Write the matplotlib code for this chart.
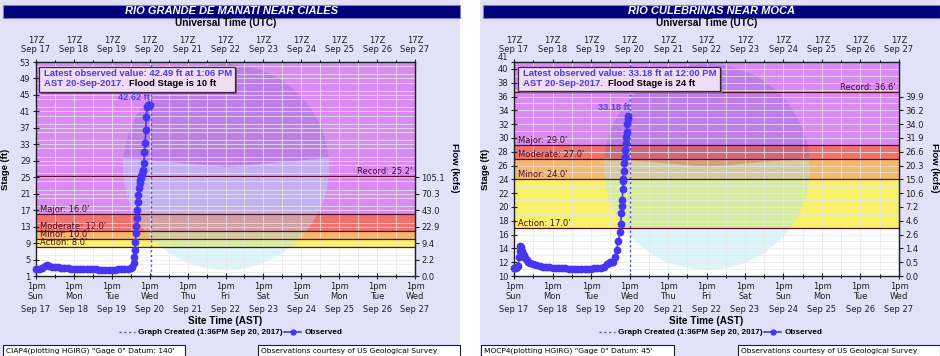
import matplotlib
matplotlib.use('Agg')
import matplotlib.pyplot as plt
import matplotlib.ticker as mticker
import matplotlib.transforms as mtrans
from matplotlib.patches import Rectangle, Wedge
from matplotlib.lines import Line2D

W, H = 940, 356

# ---------------- data ----------------
utc_labels = ['Sep 17', 'Sep 18', 'Sep 19', 'Sep 20', 'Sep 21', 'Sep 22',
              'Sep 23', 'Sep 24', 'Sep 25', 'Sep 26', 'Sep 27']
weekday_labels = ['Sun', 'Mon', 'Tue', 'Wed', 'Thu', 'Fri', 'Sat', 'Sun',
                  'Mon', 'Tue', 'Wed']
graph_created_hour = 72.6  # hours after 1pm AST Sep 17

# Rio Grande de Manati near Ciales
manati_hours = [0, 2, 4, 6, 7, 8, 10, 12, 14, 16, 18, 20, 22, 24, 26, 28, 30, 32,
                34, 36, 38, 40, 42, 44, 46, 48, 50, 52, 54, 56, 58, 60, 61, 61.75,
                62.25, 62.6, 62.9, 63.2, 63.5, 63.8, 64.1, 64.5, 64.9, 65.3, 65.7,
                66.0, 66.4, 66.8, 67.2, 67.6, 68.0, 68.3, 68.7, 69.1, 69.5, 69.9,
                70.3, 70.8, 71.3, 71.7, 72.1]
manati_stage = [2.8, 2.8, 2.9, 3.4, 3.6, 3.5, 3.3, 3.2, 3.1, 3.0, 2.9, 2.9, 2.8,
                2.8, 2.7, 2.7, 2.7, 2.6, 2.6, 2.6, 2.6, 2.5, 2.5, 2.5, 2.5, 2.5,
                2.5, 2.6, 2.6, 2.7, 2.8, 3.0, 3.3, 4.2, 5.6, 7.2, 9.3, 11.4, 13.2,
                15.0, 17.0, 19.0, 20.8, 22.3, 23.5, 24.3, 24.8, 25.4, 25.9, 26.4,
                26.8, 28.5, 31.2, 33.4, 36.5, 39.7, 42.0, 42.6, 42.62, 42.55, 42.49]
manati_yticks = [1, 5, 9, 13, 17, 21, 25, 29, 33, 37, 41, 45, 49, 53]
manati_flow_pos = [1, 5, 9, 13, 17, 21, 25]
manati_flow_labels = ['0.0', '2.2', '9.4', '22.9', '43.0', '70.3', '105.1']
manati_levels = [8.0, 10.0, 12.0, 16.0]
manati_record = 25.2

# Rio Culebrinas near Moca
cul_hours = [0, 1, 2, 2.7, 3.2, 3.6, 4.0, 4.5, 5.0, 6, 7, 8, 9, 10, 12, 14, 16,
             18, 20, 22, 24, 26, 28, 30, 32, 34, 36, 38, 40, 42, 44, 46, 48, 50,
             52, 54, 56, 58, 59, 60, 61, 62, 63, 64, 65, 66, 66.5, 67, 67.3, 67.5,
             67.8, 68.0, 68.2, 68.5, 68.8, 69.0, 69.3, 69.6, 69.9, 70.2, 70.5,
             70.8, 71.0]
cul_stage = [11.2, 11.2, 11.3, 11.5, 12.8, 13.6, 14.3, 14.2, 13.6, 13.0, 12.6,
             12.3, 12.1, 11.9, 11.7, 11.6, 11.45, 11.35, 11.3, 11.25, 11.2, 11.15,
             11.1, 11.1, 11.1, 11.05, 11.05, 11.05, 11.05, 11.05, 11.05, 11.05,
             11.05, 11.1, 11.1, 11.1, 11.3, 11.7, 11.9, 12.0, 12.0, 12.1, 12.8,
             13.8, 15.0, 16.4, 17.6, 19.1, 20.2, 21.0, 22.6, 23.7, 24.0, 25.2,
             26.3, 27.3, 28.3, 29.2, 30.2, 30.9, 32.0, 32.8, 33.18]
cul_yticks = [10, 12, 14, 16, 18, 20, 22, 24, 26, 28, 30, 32, 34, 36, 38, 40, 41]
cul_flow_pos = [10, 12, 14, 16, 18, 20, 22, 24, 26, 28, 30, 32, 34, 36]
cul_flow_labels = ['0.0', '0.5', '1.4', '2.6', '4.6', '7.2', '10.6', '15.0',
                   '20.3', '26.6', '31.9', '34.0', '36.2', '39.9']
cul_levels = [17.0, 24.0, 27.0, 29.0]
cul_record = 36.6

level_names = ['Action', 'Minor', 'Moderate', 'Major']

# ---------------- style ----------------
PANEL_BG = '#e1e1f9'
TITLE_BG = '#00007a'
ZONE_COLORS = ['#f7f06a', '#f4b86c', '#ef7270', '#da8af5']  # action, minor, moderate, major+
LINE_DARK = '#5a1020'
OBS_COLOR = '#4636f0'
FONT = 'DejaVu Sans'
ARIAL = 'Liberation Sans'

fig = plt.figure(figsize=(W / 100, H / 100), dpi=100)
fig.patch.set_facecolor('white')


def fy(y):
    return 1 - y / H


def panel(x0, pw, plot_box, title, hours, stage, ylim, yticks, yminor,
          flow_pos, flow_labels, levels, record, peak_text, peak_xy,
          info_box, info1, info2a, info2b, footer_left, footer_box_l,
          footer_box_r):
    # panel background
    fig.patches.append(Rectangle((x0 / W, 0), pw / W, 1, transform=fig.transFigure,
                                 facecolor=PANEL_BG, edgecolor='none', zorder=-5))
    # title bar
    fig.patches.append(Rectangle(((x0 + 3) / W, fy(17.5)), (pw - 3) / W, 12.5 / H,
                                 transform=fig.transFigure, facecolor=TITLE_BG,
                                 edgecolor='#8080c0', lw=0.8, zorder=1))
    pl, pt, pr, pb = plot_box
    fig.text((x0 + 3 + x0 + pw) / 2 / W, fy(11.3), title, color='white',
             family=ARIAL, weight='bold', style='italic', fontsize=8,
             ha='center', va='center', zorder=2)
    ax = fig.add_axes([pl / W, fy(pb), (pr - pl) / W, (pb - pt) / H])
    ax.set_zorder(3)
    ax.set_xlim(0, 240)
    ax.set_ylim(*ylim)
    ax.set_facecolor('white')

    # flood zones
    bounds = levels + [ylim[1]]
    for i, c in enumerate(ZONE_COLORS):
        ax.axhspan(bounds[i], bounds[i + 1], color=c, zorder=0.2, lw=0)

    # NOAA-like watermark
    cx, cy = (pl + pr) / 2 + 0.5, 167
    trans = fig.dpi_scale_trans
    r = 1.03
    ax.add_patch(Wedge((cx / 100, (H - cy) / 100), r, 5, 175, transform=trans,
                       facecolor='#4a4ac0', alpha=0.2, lw=0, zorder=0.3))
    ax.add_patch(Wedge((cx / 100, (H - cy) / 100), r, 175, 365, transform=trans,
                       facecolor='#a6e8f6', alpha=0.4, lw=0, zorder=0.3))

    # grid
    ax.xaxis.set_major_locator(mticker.MultipleLocator(24))
    ax.xaxis.set_minor_locator(mticker.MultipleLocator(12))
    ax.set_yticks(yticks)
    ax.yaxis.set_minor_locator(mticker.MultipleLocator(yminor))
    ax.set_axisbelow(True)
    ax.grid(which='both', color='#e8e8e8', lw=0.7, alpha=0.75)

    # threshold lines + labels
    for name, lv in zip(level_names, levels):
        ax.axhline(lv, color=LINE_DARK, lw=0.9, zorder=2)
        ax.text(2.5, lv, f"{name}: {lv:.1f}'", fontsize=6, family=FONT,
                color='#4a0a20', va='bottom', ha='left', zorder=2.5)
    ax.axhline(record, color=LINE_DARK, lw=0.9, zorder=2)
    ax.text(238, record, f"Record: {record:.1f}'", fontsize=6, family=FONT,
            color='#4a0a20', va='bottom', ha='right', zorder=2.5)

    # graph created line
    ax.axvline(graph_created_hour, color='#4a4af0', lw=1.0, ls=(0, (1.5, 2)),
               zorder=2.6)

    # observed
    ax.plot(hours, stage, color=OBS_COLOR, lw=1.2, marker='o', ms=4.6,
            mec=OBS_COLOR, mfc=OBS_COLOR, zorder=3, clip_on=False)
    ax.text(peak_xy[0], peak_xy[1], peak_text, fontsize=6.6, family=ARIAL,
            weight='bold', color='#5046e6', ha='center', va='center', zorder=4)

    # axes styling
    for s in ax.spines.values():
        s.set_color('#202020')
        s.set_linewidth(1.0)
    ax.tick_params(axis='both', which='major', direction='inout', length=5,
                   width=0.8, labelsize=6, colors='#202020', pad=1.5)
    ax.tick_params(axis='x', which='minor', direction='inout', length=3,
                   width=0.7)
    ax.tick_params(axis='y', which='minor', length=0)
    ax.set_yticklabels([str(t) for t in yticks], family=FONT)
    # keep the topmost label just above the next one (as in the original)
    if yticks[-1] - yticks[-2] == 1:
        ax.get_yticklabels()[-1].set_va('bottom')
    xt = list(range(0, 241, 24))
    ax.set_xticks(xt)
    ax.set_xticklabels([f"1pm\n{d}" for d in weekday_labels], family=FONT,
                       linespacing=1.15)

    # bottom date row
    bt = mtrans.blended_transform_factory(ax.transData, fig.transFigure)
    for h, d in zip(xt, utc_labels):
        fig.text(h, fy(309), d, transform=bt, fontsize=6, family=FONT,
                 ha='center', va='center', color='#202020')

    # top UTC axis
    top = ax.secondary_xaxis('top')
    top.set_xticks(xt)
    top.set_xticklabels([f"17Z\n{d}" for d in utc_labels], family=FONT,
                        linespacing=1.05)
    top.xaxis.set_minor_locator(mticker.MultipleLocator(12))
    top.tick_params(which='major', direction='inout', length=5, width=0.8,
                    labelsize=6, colors='#202020', pad=3)
    top.tick_params(which='minor', direction='inout', length=3, width=0.7)
    top.spines['top'].set_color('#202020')

    # right flow axis
    right = ax.secondary_yaxis('right')
    right.set_yticks(flow_pos)
    right.set_yticklabels(flow_labels, family=FONT)
    right.tick_params(direction='out', length=3, width=0.8, labelsize=6,
                      colors='#202020', pad=1.5)
    right.spines['right'].set_color('#202020')

    # axis titles
    xc = (pl + pr) / 2
    fig.text(xc / W, fy(23.5), 'Universal Time (UTC)', family=ARIAL,
             weight='bold', fontsize=7.2, ha='center', va='center')
    fig.text(xc / W, fy(321), 'Site Time (AST)', family=ARIAL, weight='bold',
             fontsize=7.2, ha='center', va='center')
    fig.text((x0 + 6) / W, fy(169), 'Stage (ft)', family=ARIAL, weight='bold',
             fontsize=6.8, rotation=90, ha='center', va='center')
    fig.text((x0 + pw - 5) / W, fy(168), 'Flow (kcfs)', family=ARIAL,
             weight='bold', fontsize=6.8, rotation=270, ha='center', va='center')

    # legend
    ly = fy(332)
    lx = x0 + 119
    fig.lines.append(Line2D([lx / W, (lx + 16) / W], [ly, ly], color='#4a4af0',
                            lw=1.0, ls=(0, (1.5, 2)), transform=fig.transFigure))
    fig.text((lx + 19) / W, ly, 'Graph Created (1:36PM Sep 20, 2017)',
             family=ARIAL, weight='bold', fontsize=5.9, ha='left', va='center')
    lx2 = x0 + 284
    fig.lines.append(Line2D([lx2 / W, (lx2 + 17) / W], [ly, ly], color=OBS_COLOR,
                            lw=1.2, transform=fig.transFigure))
    fig.lines.append(Line2D([(lx2 + 8.5) / W], [ly], color=OBS_COLOR,
                            marker='o', ms=3.5, transform=fig.transFigure))
    fig.text((lx2 + 21) / W, ly, 'Observed', family=ARIAL, weight='bold',
             fontsize=5.9, ha='left', va='center')

    # info box (shadow + box)
    bx0, by0, bx1, by1 = info_box
    fig.patches.append(Rectangle(((bx0 + 2) / W, fy(by1 + 2)), (bx1 - bx0) / W,
                                 (by1 - by0) / H, transform=fig.transFigure,
                                 facecolor='#7a5a80', edgecolor='none', zorder=5))
    fig.patches.append(Rectangle((bx0 / W, fy(by1)), (bx1 - bx0) / W,
                                 (by1 - by0) / H, transform=fig.transFigure,
                                 facecolor='#f0dcf4', edgecolor='#3a2a40', lw=0.9,
                                 zorder=6))
    fig.text((bx0 + 5) / W, fy(by0 + 7), info1, family=ARIAL, weight='bold',
             fontsize=6.8, color='#4a3ae8', ha='left', va='center', zorder=7)
    t2 = fig.text((bx0 + 5) / W, fy(by0 + 16.5), info2a, family=ARIAL,
                  weight='bold', fontsize=6.8, color='#4a3ae8', ha='left',
                  va='center', zorder=7)
    ann = plt.Annotation(info2b, xy=(1, 0.5), xycoords=t2,
                         xytext=(4, 0), textcoords='offset points',
                         family=ARIAL, weight='bold', fontsize=6.8,
                         color='black', ha='left', va='center', zorder=7)
    ann.set_figure(fig)
    fig.texts.append(ann)

    # footer boxes
    for (fx0, fx1), txt in zip([footer_box_l, footer_box_r],
                               [footer_left,
                                'Observations courtesy of US Geological Survey']):
        fig.patches.append(Rectangle((fx0 / W, fy(357)), (fx1 - fx0) / W, 12.5 / H,
                                     transform=fig.transFigure,
                                     facecolor='white', edgecolor='#202020',
                                     lw=0.8, zorder=2))
        fig.text((fx0 + 3) / W, fy(350.5), txt, family=FONT, fontsize=5.4,
                 ha='left', va='center', zorder=3)
    return ax


panel(0, 460, (36, 62, 415, 276), 'RIO GRANDE DE MANATI NEAR CIALES',
      manati_hours, manati_stage, (1, 53), manati_yticks, 2,
      manati_flow_pos, manati_flow_labels, manati_levels, manati_record,
      '42.62 ft', (62, 44.4), (39, 67, 235, 92),
      'Latest observed value: 42.49 ft at 1:06 PM', 'AST 20-Sep-2017.',
      'Flood Stage is 10 ft', 'CIAP4(plotting HGIRG) "Gage 0" Datum: 140\'',
      (3, 185), (258, 460))

panel(480, 460, (514, 62, 899, 276), 'RIO CULEBRINAS NEAR MOCA',
      cul_hours, cul_stage, (10, 41), cul_yticks, 1,
      cul_flow_pos, cul_flow_labels, cul_levels, cul_record,
      '33.18 ft', (62, 34.4), (518, 67, 720, 91),
      'Latest observed value: 33.18 ft at 12:00 PM', 'AST 20-Sep-2017.',
      'Flood Stage is 24 ft', 'MOCP4(plotting HGIRG) "Gage 0" Datum: 45\'',
      (481, 674), (738, 940))

fig.savefig('out.png', dpi=100, facecolor=fig.get_facecolor())
